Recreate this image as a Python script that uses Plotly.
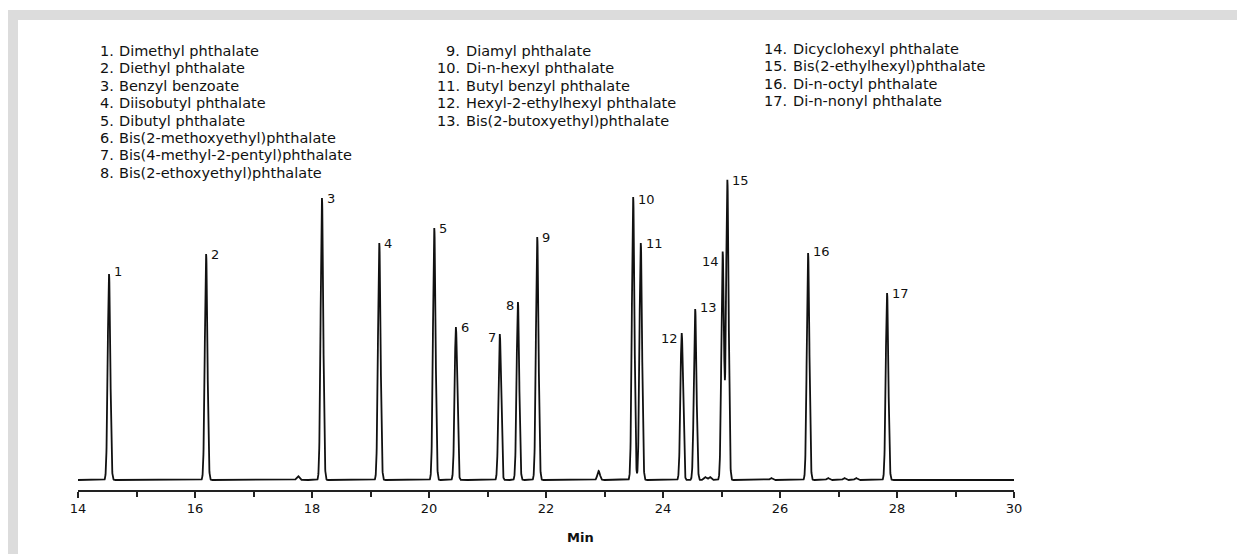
import numpy as np
import plotly.graph_objects as go

# ---------------- data ----------------
compounds = [
    "Dimethyl phthalate", "Diethyl phthalate", "Benzyl benzoate", "Diisobutyl phthalate",
    "Dibutyl phthalate", "Bis(2-methoxyethyl)phthalate", "Bis(4-methyl-2-pentyl)phthalate",
    "Bis(2-ethoxyethyl)phthalate", "Diamyl phthalate", "Di-n-hexyl phthalate",
    "Butyl benzyl phthalate", "Hexyl-2-ethylhexyl phthalate", "Bis(2-butoxyethyl)phthalate",
    "Dicyclohexyl phthalate", "Bis(2-ethylhexyl)phthalate", "Di-n-octyl phthalate",
    "Di-n-nonyl phthalate",
]
peak_numbers = list(range(1, 18))
retention_min = [14.53, 16.19, 18.17, 19.15, 20.09, 20.46, 21.21, 21.52, 21.85,
                 23.49, 23.62, 24.32, 24.55, 25.02, 25.10, 26.48, 27.83]
peak_height = [206, 226, 282, 237, 252, 153, 146, 178, 243,
               283, 237, 147, 171, 228, 300, 227, 187]
minor_rt = [17.76, 22.90, 24.72, 24.80, 25.85, 26.82, 27.10, 27.30]
minor_height = [4, 9, 3, 3, 2, 2, 2, 2]
x_ticks = [14, 16, 18, 20, 22, 24, 26, 28, 30]

# ---------------- styling / layout ----------------
OFF = 8                                   # page body margin in the browser
W, H = 1245, 554
L, R, T, B = 78, 1014, 160, 490          # plot area in reference pixels
def px(xp):  # reference pixel -> paper x
    return (xp - L) / (R - L)
def py(yp):  # reference pixel -> paper y
    return (B - yp) / (B - T)

FONT = "DejaVu Sans, Open Sans, sans-serif"
TXT = "#111111"

label_left = {7, 8, 12, 14}
label_yshift = {1: 3, 14: -9, 12: -5, 8: -3, 7: -3, 13: 2, 16: 2, 10: -2}

sigma = 0.022
t = np.arange(14.0, 30.0005, 0.002)
signal = np.zeros_like(t)
for rt, h in zip(retention_min + minor_rt, peak_height + minor_height):
    signal += h * np.exp(-0.5 * ((t - rt) / sigma) ** 2)

fig = go.Figure()
fig.add_trace(go.Scatter(x=t, y=signal, mode="lines",
                         line=dict(color="#111111", width=1.8),
                         hoverinfo="skip", showlegend=False))

ann = []
for n, rt, h in zip(peak_numbers, retention_min, peak_height):
    left = n in label_left
    ann.append(dict(x=rt, y=h, xref="x", yref="y", text=str(n), showarrow=False,
                    xanchor="right" if left else "left", yanchor="middle",
                    xshift=-3 if left else 4, yshift=label_yshift.get(n, 0), borderpad=0,
                    font=dict(family=FONT, size=13, color=TXT)))

columns = [(range(0, 8), 115, 118, 51), (range(8, 13), 461, 465, 51), (range(13, 17), 788, 792, 49)]
for idx, num_right, name_left, y0 in columns:
    for k, i in enumerate(idx):
        yp = y0 + k * 17.4
        common = dict(y=py(yp), xref="paper", yref="paper", showarrow=False,
                      yanchor="middle", borderpad=0,
                      font=dict(family=FONT, size=14.5, color=TXT))
        ann.append(dict(x=px(num_right), text=f"{peak_numbers[i]}.", xanchor="right", **common))
        ann.append(dict(x=px(name_left), text=compounds[i], xanchor="left", **common))

ann.append(dict(x=px(580), y=py(537), xref="paper", yref="paper", text="<b>Min</b>",
                showarrow=False, xanchor="center", yanchor="middle",
                font=dict(family=FONT, size=13, color=TXT)))

shapes = [
    dict(type="rect", xref="paper", yref="paper", x0=px(8), x1=px(1260), y0=py(20), y1=py(10),
         fillcolor="#dcdcdc", line=dict(width=0), layer="below"),
    dict(type="rect", xref="paper", yref="paper", x0=px(8), x1=px(18), y0=py(570), y1=py(10),
         fillcolor="#dcdcdc", line=dict(width=0), layer="below"),
]

fig.update_layout(
    width=W - OFF, height=H - OFF,
    margin=dict(l=L - OFF, r=W - R, t=T - OFF, b=H - B, pad=0),
    paper_bgcolor="white", plot_bgcolor="white",
    annotations=ann, shapes=shapes,
    xaxis=dict(range=[14, 30], tickvals=x_ticks, ticktext=[str(v) for v in x_ticks],
               showline=True, linecolor="#222", linewidth=1.5, mirror=False,
               ticks="outside", ticklen=6, tickwidth=1.5, tickcolor="#222",
               minor=dict(dtick=1, tick0=14, ticks="outside", ticklen=5, tickwidth=1.5,
                          tickcolor="#222", showgrid=False),
               showgrid=False, zeroline=False,
               tickfont=dict(family=FONT, size=13, color=TXT)),
    yaxis=dict(range=[-10, 320], visible=False, showgrid=False, zeroline=False),
)

fig.write_html("out.html")
